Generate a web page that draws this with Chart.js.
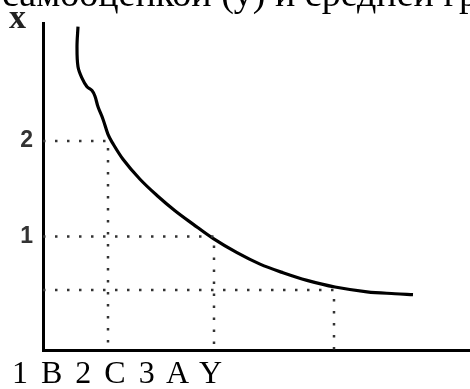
<!DOCTYPE html>
<html>
<head>
<meta charset="utf-8">
<script src="https://cdn.jsdelivr.net/npm/chart.js@4/dist/chart.umd.min.js"></script>
<style>
  html, body { margin: 0; padding: 0; background: #fff; }
  #wrap { position: relative; width: 470px; height: 389px; overflow: hidden; background: #fff; }
  #c { position: absolute; left: 0; top: 0; }
  .txt { position: absolute; white-space: nowrap; font-family: "Liberation Serif", "DejaVu Serif", serif; color: #000; }
  #topText { left: 2px; top: -26px; font-size: 38px; line-height: 38px; }
  #xLabel { left: 9px; top: 0px; font-size: 34px; line-height: 34px; font-weight: bold; color: #222; }
  #bottomText { left: 12px; top: 356px; font-size: 32px; line-height: 32px; word-spacing: 5px; }
</style>
</head>
<body>
<div id="wrap">
  <canvas id="c" width="470" height="389"></canvas>
  <div class="txt" id="topText">самооценкой (у) и средней гр</div>
  <div class="txt" id="xLabel">x</div>
  <div class="txt" id="bottomText">1 B 2 C 3 A Y</div>
</div>
<script>
// ---- data ----
const curveX = [0.35, 0.34, 0.35, 0.39, 0.44, 0.49, 0.52, 0.55, 0.60, 0.65, 0.69, 0.80, 0.97, 1.14, 1.32, 1.50, 1.70, 1.94, 2.17, 2.40, 2.64, 2.92, 3.24, 3.52, 3.70];
const curveY = [3.20, 2.99, 2.78, 2.66, 2.57, 2.53, 2.47, 2.36, 2.23, 2.07, 1.99, 1.81, 1.60, 1.43, 1.27, 1.13, 0.98, 0.83, 0.71, 0.62, 0.54, 0.47, 0.42, 0.40, 0.39];
const guideX = [0.65, 1.71, 2.91];   // dotted drop lines
const guideY = [2, 1, 0.44];         // dotted horizontal lines
const yTickValues = [1, 2];
const yTickLabels = ['1', '2'];
const xMin = 0, xMax = 4.27;
const yMin = -0.19, yMax = 3.23;

const curve = curveX.map((x, i) => ({ x: x, y: curveY[i] }));
const guideSets = guideX.map((gx, i) => ({
  data: [{ x: xMin, y: guideY[i] }, { x: gx, y: guideY[i] }, { x: gx, y: yMin }],
  borderColor: '#333',
  borderWidth: 2.5,
  borderDash: [2.5, 9.5],
  borderCapStyle: 'butt',
  pointRadius: 0,
  tension: 0,
  fill: false
}));

new Chart(document.getElementById('c'), {
  type: 'line',
  data: {
    datasets: [
      ...guideSets,
      {
        data: curve,
        borderColor: '#000',
        borderWidth: 3.2,
        pointRadius: 0,
        tension: 0.35,
        fill: false
      }
    ]
  },
  options: {
    responsive: false,
    animation: false,
    devicePixelRatio: 1,
    layout: { padding: { top: 22, right: 0, bottom: 0, left: 0 } },
    plugins: { legend: { display: false }, tooltip: { enabled: false } },
    scales: {
      x: {
        type: 'linear',
        min: xMin, max: xMax,
        grid: { display: false },
        border: { display: true, color: '#000', width: 3 },
        ticks: { display: false },
        afterFit: (s) => { s.height = 39; }
      },
      y: {
        type: 'linear',
        min: yMin, max: yMax,
        grid: { display: false, drawTicks: false },
        border: { display: true, color: '#000', width: 3 },
        afterBuildTicks: (s) => { s.ticks = yTickValues.map(v => ({ value: v })); },
        ticks: {
          padding: 10,
          color: '#333',
          font: { family: 'Liberation Sans', size: 23, weight: 'bold' },
          callback: (v) => yTickLabels[yTickValues.indexOf(v)]
        },
        afterFit: (s) => { s.width = 43; }
      }
    }
  }
});
</script>
</body>
</html>
